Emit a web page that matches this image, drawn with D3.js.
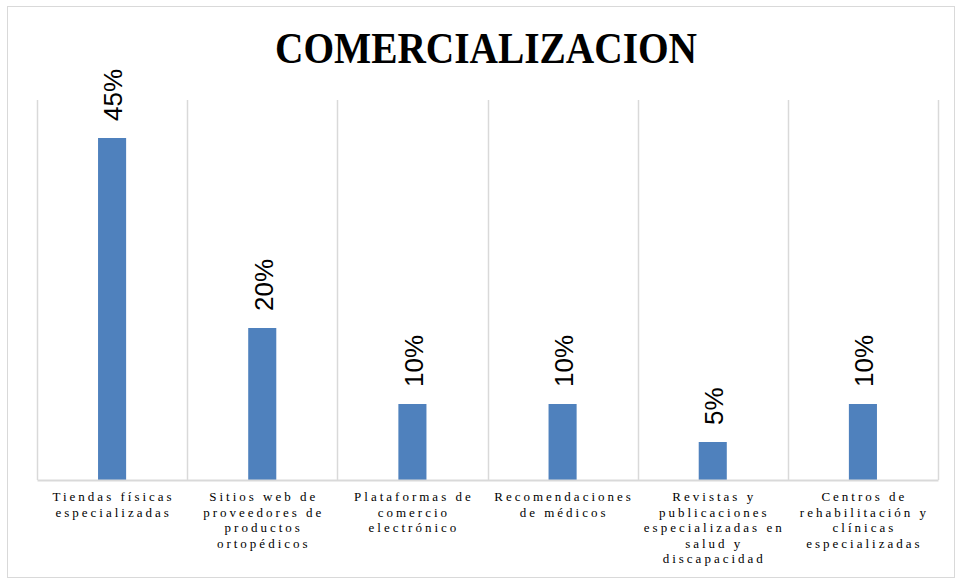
<!DOCTYPE html>
<html>
<head>
<meta charset="utf-8">
<script src="https://cdn.jsdelivr.net/npm/d3@7"></script>
<style>
  body { margin: 0; background: #fff; }
</style>
</head>
<body>
<svg id="chart" width="958" height="579"></svg>
<script>
// Chart data
const categories = [
    ["Tiendas físicas", "especializadas"],
    ["Sitios web de", "proveedores de", "productos", "ortopédicos"],
    ["Plataformas de", "comercio", "electrónico"],
    ["Recomendaciones", "de médicos"],
    ["Revistas y", "publicaciones", "especializadas en", "salud y", "discapacidad"],
    ["Centros de", "rehabilitación y", "clínicas", "especializadas"]
];
const values = [0.45, 0.20, 0.10, 0.10, 0.05, 0.10];
const valueLabels = ["45%", "20%", "10%", "10%", "5%", "10%"];
const title = "COMERCIALIZACION";

const svg = d3.select("#chart"),
    margin = {top: 100, right: 20, bottom: 99, left: 37},
    width = 938 - margin.left,
    height = 480 - margin.top;

// outer frame
svg.append("rect")
    .attr("x", 7.5).attr("y", 6.5)
    .attr("width", 947).attr("height", 571)
    .attr("fill", "#fff")
    .attr("stroke", "#d9d9d9");

// title
svg.append("text")
    .attr("x", 486).attr("y", 63)
    .attr("text-anchor", "middle")
    .attr("textLength", 422)
    .attr("lengthAdjust", "spacingAndGlyphs")
    .style("font-family", "'Liberation Serif', 'Times New Roman', serif")
    .style("font-weight", "bold")
    .style("font-size", "45px")
    .text(title);

const chart = svg.append("g").attr("transform", `translate(${margin.left},${margin.top})`);

// Scales
const x = d3.scaleBand().domain(d3.range(categories.length)).range([0, width]);
const y = d3.scaleLinear().domain([0, 0.5]).range([height, 0]);
const barW = x.bandwidth() * 0.187;

// vertical grid lines at category boundaries
const bounds = d3.range(categories.length + 1).map(i => i === categories.length ? width : x(i));
chart.selectAll(".grid")
    .data(bounds)
    .enter().append("line")
    .attr("class", "grid")
    .attr("x1", d => Math.round(d) + 0.5).attr("x2", d => Math.round(d) + 0.5)
    .attr("y1", 0).attr("y2", height)
    .attr("stroke", "#d9d9d9")
    .attr("stroke-width", 1.5);

// bars
chart.selectAll(".bar")
    .data(values)
    .enter().append("rect")
    .attr("class", "bar")
    .attr("x", (d, i) => x(i) + x.bandwidth() / 2 - barW / 2)
    .attr("y", d => y(d))
    .attr("width", barW)
    .attr("height", d => height - y(d))
    .attr("fill", "#4f81bd");

// baseline axis
const xAxis = d3.axisBottom(x).tickSize(0).tickFormat("");
chart.append("g")
    .attr("class", "x-axis")
    .attr("transform", `translate(0,${height})`)
    .call(xAxis)
    .call(g => g.select(".domain").attr("stroke", "#d9d9d9").attr("stroke-width", 2));

// value labels, rotated
chart.selectAll(".val")
    .data(values)
    .enter().append("text")
    .attr("class", "val")
    .attr("transform", (d, i) => `translate(${x(i) + x.bandwidth() / 2 + 1},${y(d) - 17}) rotate(-90)`)
    .attr("dy", "0.36em")
    .style("font-family", "'Liberation Sans', Arial, sans-serif")
    .style("font-size", "26px")
    .attr("fill", "#000")
    .text((d, i) => valueLabels[i]);

// category labels
const cats = chart.selectAll(".cat")
    .data(categories)
    .enter().append("text")
    .attr("class", "cat")
    .attr("text-anchor", "middle")
    .style("font-family", "'Liberation Serif', 'Times New Roman', serif")
    .style("font-size", "13px")
    .style("letter-spacing", "3px")
    .attr("fill", "#000");

cats.each(function(lines, i) {
    d3.select(this).selectAll("tspan")
        .data(lines)
        .enter().append("tspan")
        .attr("x", x(i) + x.bandwidth() / 2 + 1.5)
        .attr("y", (l, j) => height + 21 + j * 15.5)
        .text(l => l);
});
</script>
</body>
</html>
